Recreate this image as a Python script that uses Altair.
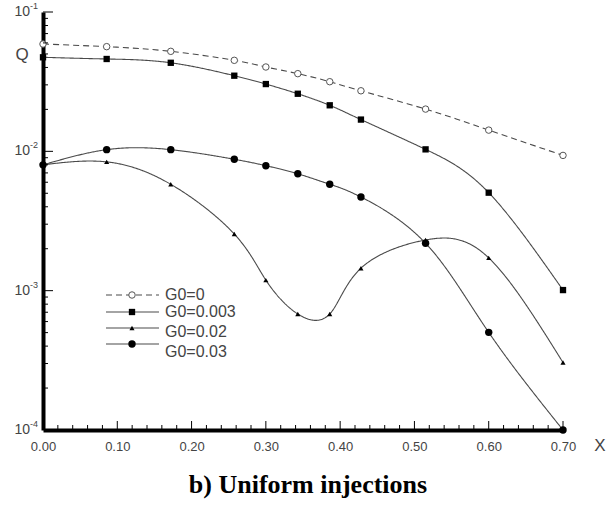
import altair as alt
import pandas as pd

# ---- data ----
X_PTS = [0.0, 0.0857, 0.172, 0.2575, 0.300, 0.343, 0.386, 0.428, 0.515, 0.600, 0.700]
Q_G0_0 = [0.0589, 0.0564, 0.0522, 0.0450, 0.0403, 0.0361, 0.0316, 0.0272, 0.0201, 0.0142, 0.00935]
Q_G0_003 = [0.0473, 0.0460, 0.0432, 0.0349, 0.0304, 0.0259, 0.0214, 0.0169, 0.01033, 0.00505, 0.00101]
Q_G0_02 = [0.0080, 0.0084, 0.0058, 0.00255, 0.00119, 0.00068, 0.00068, 0.00145, 0.00231, 0.00172, 0.000305]
Q_G0_03 = [0.0080, 0.01028, 0.01028, 0.00877, 0.00789, 0.0069, 0.0058, 0.0047, 0.00219, 0.000502, 0.0001]
SERIES = ["G0=0", "G0=0.003", "G0=0.02", "G0=0.03"]
X_TICK_LABELS = [0.0, 0.1, 0.2, 0.3, 0.4, 0.5, 0.6, 0.7]
X_MINOR = [round(i * 0.02, 2) for i in range(36) if i % 5 != 0]
DECADES = [1e-4, 1e-3, 1e-2, 1e-1]
DECADE_EXP = ["-4", "-3", "-2", "-1"]
Y_MINOR = [m * d for d in [1e-4, 1e-3, 1e-2] for m in range(2, 10)]

W, H = 520, 418
FONT = "Liberation Sans"
LINE_COLOR = "#4a4a4a"

values = [Q_G0_0, Q_G0_003, Q_G0_02, Q_G0_03]
frames = {s: pd.DataFrame({"x": X_PTS, "q": v, "series": s}) for s, v in zip(SERIES, values)}

xscale = alt.Scale(domain=[0, 0.7], nice=False, zero=False)
yscale = alt.Scale(type="log", domain=[1e-4, 1e-1], nice=False)

XA = alt.Axis(values=X_TICK_LABELS, format=".2f", ticks=False, tickSize=0, grid=False,
              domainWidth=4, domainColor="black", labelFont=FONT, labelFontSize=13,
              labelColor="#444", labelPadding=10, labelFlush=False, title=None, zindex=0)
YA = alt.Axis(values=DECADES, labels=False, ticks=False, tickSize=0, grid=False,
              domainWidth=4, domainColor="black", title=None, zindex=0)


def X(field):
    return alt.X(field, scale=xscale, axis=XA)


def Y(field):
    return alt.Y(field, scale=yscale, axis=YA)


style = {
    "G0=0": dict(dash=[6, 4], shape="circle", filled=False, size=42),
    "G0=0.003": dict(dash=[1, 0], shape="square", filled=True, size=40),
    "G0=0.02": dict(dash=[1, 0], shape="triangle-up", filled=True, size=26),
    "G0=0.03": dict(dash=[1, 0], shape="circle", filled=True, size=55),
}


def point_mark(st):
    return dict(
        shape=st["shape"], filled=st["filled"], size=st["size"],
        color="black" if st["filled"] else "#555",
        fill="black" if st["filled"] else "white",
        strokeWidth=0 if st["filled"] else 1, opacity=1,
    )


layers = []

# curves and markers
for s in SERIES:
    st = style[s]
    df = frames[s]
    line = alt.Chart(df).mark_line(
        interpolate="natural", color=LINE_COLOR, strokeWidth=1.1,
        strokeDash=st["dash"], clip=True,
    ).encode(x=X("x:Q"), y=Y("q:Q"))
    pts = alt.Chart(df).mark_point(**point_mark(st)).encode(x=X("x:Q"), y=Y("q:Q"))
    layers += [line, pts]

# inside ticks
tx_major = pd.DataFrame({"v": X_TICK_LABELS[1:]})
tx_minor = pd.DataFrame({"v": X_MINOR})
ty_major = pd.DataFrame({"v": DECADES[1:]})
ty_minor = pd.DataFrame({"v": Y_MINOR})
layers.append(alt.Chart(tx_major).mark_rule(color="black", strokeWidth=1).encode(
    x=X("v:Q"), y=alt.value(H), y2=alt.value(H - 9)))
layers.append(alt.Chart(tx_minor).mark_rule(color="black", strokeWidth=1).encode(
    x=X("v:Q"), y=alt.value(H), y2=alt.value(H - 5)))
layers.append(alt.Chart(ty_major).mark_rule(color="black", strokeWidth=1).encode(
    y=Y("v:Q"), x=alt.value(0), x2=alt.value(10)))
layers.append(alt.Chart(ty_minor).mark_rule(color="black", strokeWidth=1).encode(
    y=Y("v:Q"), x=alt.value(0), x2=alt.value(5)))

# y decade labels 10^n
dec_df = pd.DataFrame({"v": DECADES, "e": DECADE_EXP})
layers.append(alt.Chart(dec_df).mark_text(
    text="10", align="right", baseline="middle", font=FONT, fontSize=14, color="#444"
).encode(y=Y("v:Q"), x=alt.value(-13)))
layers.append(alt.Chart(dec_df).mark_text(
    align="left", baseline="middle", font=FONT, fontSize=9, color="#444", dy=-6
).encode(y=Y("v:Q"), x=alt.value(-13), text="e:N"))

one_row = pd.DataFrame({"k": [0]})
# axis titles
layers.append(alt.Chart(one_row).mark_text(
    text="Q", font=FONT, fontSize=17, color="#444", align="center", baseline="middle"
).encode(x=alt.value(-21), y=alt.value(43)))
layers.append(alt.Chart(one_row).mark_text(
    text="X", font=FONT, fontSize=17, color="#444", align="center", baseline="middle"
).encode(x=alt.value(557), y=alt.value(434)))

# caption
layers.append(alt.Chart(one_row).mark_text(
    text="b) Uniform injections", font="Liberation Serif", fontSize=26, fontWeight="bold",
    color="black", align="center", baseline="middle"
).encode(x=alt.value(265), y=alt.value(473)))

# legend
leg_line_y = [283, 300, 316, 332]
leg_text_y = [283, 300, 320, 340]
for i, s in enumerate(SERIES):
    st = style[s]
    one = pd.DataFrame({"series": [s]})
    layers.append(alt.Chart(one).mark_rule(color=LINE_COLOR, strokeWidth=1.1, strokeDash=st["dash"]).encode(
        x=alt.value(63), x2=alt.value(116), y=alt.value(leg_line_y[i])))
    layers.append(alt.Chart(one).mark_point(**point_mark(st)).encode(
        x=alt.value(89), y=alt.value(leg_line_y[i])))
    layers.append(alt.Chart(one).mark_text(
        align="left", baseline="middle", font=FONT, fontSize=16, color="#444"
    ).encode(x=alt.value(122), y=alt.value(leg_text_y[i]), text="series:N"))

chart = alt.layer(*layers).properties(
    width=W, height=H,
    autosize=alt.AutoSizeParams(type="none"),
    padding={"left": 43, "top": 12, "right": 48, "bottom": 76},
).configure_view(stroke=None)

chart.save("out.html", embed_options={"renderer": "svg", "actions": False})
